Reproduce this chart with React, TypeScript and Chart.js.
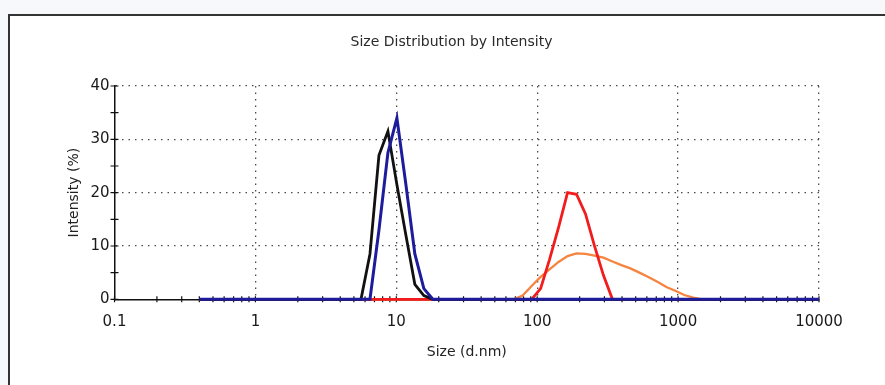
import React, { useEffect, useRef } from "react";
import { Chart, registerables } from "chart.js";

Chart.register(...registerables);

// Size bins (d.nm)
const SIZES = [
  0.4, 0.4632, 0.5364, 0.6212, 0.7194, 0.8331, 0.9647, 1.117, 1.294, 1.499,
  1.736, 2.01, 2.328, 2.696, 3.122, 3.615, 4.187, 4.849, 5.615, 6.503,
  7.531, 8.721, 10.1, 11.7, 13.54, 15.69, 18.17, 21.04, 24.36, 28.21,
  32.67, 37.84, 43.82, 50.75, 58.77, 68.06, 78.82, 91.28, 105.7, 122.4,
  141.8, 164.2, 190.1, 220.2, 255.0, 295.3, 342.0, 396.1, 458.7, 531.2,
  615.1, 712.4, 825.0, 955.4, 1106, 1281, 1484, 1718, 1990, 2305,
  2669, 3091, 3580, 4145, 4801, 5560, 6439, 7456, 8635, 10000,
];

const BLUE = [
  0, 0, 0, 0, 0, 0, 0, 0, 0, 0,
  0, 0, 0, 0, 0, 0, 0, 0, 0, 0,
  13, 27.5, 34, 21.5, 8.5, 2, 0, 0, 0, 0,
  0, 0, 0, 0, 0, 0, 0, 0, 0, 0,
  0, 0, 0, 0, 0, 0, 0, 0, 0, 0,
  0, 0, 0, 0, 0, 0, 0, 0, 0, 0,
  0, 0, 0, 0, 0, 0, 0, 0, 0, 0,
];

const BLACK = [
  0, 0, 0, 0, 0, 0, 0, 0, 0, 0,
  0, 0, 0, 0, 0, 0, 0, 0, 0, 8.5,
  27, 31.5, 21.5, 12, 2.8, 0.7, 0, 0, 0, 0,
  0, 0, 0, 0, 0, 0, 0, 0, 0, 0,
  0, 0, 0, 0, 0, 0, 0, 0, 0, 0,
  0, 0, 0, 0, 0, 0, 0, 0, 0, 0,
  0, 0, 0, 0, 0, 0, 0, 0, 0, 0,
];

const RED = [
  0, 0, 0, 0, 0, 0, 0, 0, 0, 0,
  0, 0, 0, 0, 0, 0, 0, 0, 0, 0,
  0, 0, 0, 0, 0, 0, 0, 0, 0, 0,
  0, 0, 0, 0, 0, 0, 0, 0, 2, 7.5,
  13.5, 20, 19.7, 16, 10, 4.5, 0, 0, 0, 0,
  0, 0, 0, 0, 0, 0, 0, 0, 0, 0,
  0, 0, 0, 0, 0, 0, 0, 0, 0, 0,
];

const ORANGE = [
  0, 0, 0, 0, 0, 0, 0, 0, 0, 0,
  0, 0, 0, 0, 0, 0, 0, 0, 0, 0,
  0, 0, 0, 0, 0, 0, 0, 0, 0, 0,
  0, 0, 0, 0, 0, 0, 0.7, 2.5, 4.2, 5.6,
  7.0, 8.1, 8.6, 8.5, 8.2, 7.8, 7.1, 6.4, 5.8, 5.0,
  4.2, 3.3, 2.3, 1.6, 0.8, 0.3, 0, 0, 0, 0,
  0, 0, 0, 0, 0, 0, 0, 0, 0, 0,
];

const X_MAJOR = [0.1, 1, 10, 100, 1000, 10000];
const X_LABELS = ["0.1", "1", "10", "100", "1000", "10000"];
const X_MINOR_STEPS = [1, 2, 3, 4, 5, 6, 7, 8, 9];
const Y_TICKS = [0, 5, 10, 15, 20, 25, 30, 35, 40];
const Y_LABELS: Record<number, string> = { 0: "0", 10: "10", 20: "20", 30: "30", 40: "40" };

const TITLE = "Size Distribution by Intensity";
const X_TITLE = "Size (d.nm)";
const Y_TITLE = "Intensity (%)";

const FONT = "'DejaVu Sans', Arial, sans-serif";

const majorIndex = (v: number) =>
  X_MAJOR.findIndex((m) => Math.abs(Math.log10(v) - Math.log10(m)) < 1e-6);

const xTickValues: number[] = [];
X_MAJOR.forEach((m, i) => {
  if (i === X_MAJOR.length - 1) {
    xTickValues.push(m);
  } else {
    X_MINOR_STEPS.forEach((s) => xTickValues.push(+(m * s).toPrecision(6)));
  }
});

const tickMarks = {
  id: "tickMarks",
  beforeDatasetsDraw(chart: any) {
    const { ctx, chartArea } = chart;
    const x = chart.scales.x;
    const y = chart.scales.y;
    ctx.save();
    ctx.strokeStyle = "#111";
    ctx.lineWidth = 1.2;
    ctx.beginPath();
    x.ticks.forEach((t: any) => {
      const px = x.getPixelForValue(t.value);
      ctx.moveTo(px, chartArea.bottom - 3);
      ctx.lineTo(px, chartArea.bottom + 3);
    });
    y.ticks.forEach((t: any) => {
      const py = y.getPixelForValue(t.value);
      ctx.moveTo(chartArea.left - 4, py);
      ctx.lineTo(chartArea.left + 4, py);
    });
    ctx.stroke();
    ctx.restore();
  },
};

const pts = (vals: number[]) => SIZES.map((s, i) => ({ x: s, y: vals[i] }));

export default function App() {
  const ref = useRef<HTMLCanvasElement | null>(null);

  useEffect(() => {
    if (!ref.current) return;
    const chart = new Chart(ref.current, {
      type: "line",
      data: {
        datasets: [
          { label: "blue", data: pts(BLUE), borderColor: "#1c1c9c", borderWidth: 3 },
          { label: "black", data: pts(BLACK), borderColor: "#111111", borderWidth: 2.8 },
          { label: "red", data: pts(RED), borderColor: "#f21c1c", borderWidth: 2.8 },
          { label: "orange", data: pts(ORANGE), borderColor: "#f5843f", borderWidth: 2.3 },
        ].map((d) => ({ ...d, pointRadius: 0, tension: 0, fill: false, clip: false as any })),
      },
      options: {
        responsive: false,
        animation: false,
        devicePixelRatio: 1,
        layout: { padding: 0 },
        plugins: {
          legend: { display: false },
          tooltip: { enabled: false },
          title: {
            display: true,
            text: TITLE,
            color: "#2a2a2a",
            font: { family: FONT, size: 14, weight: "normal" },
            padding: { top: 33.5, bottom: 35.7 },
          },
        },
        scales: {
          x: {
            type: "logarithmic",
            min: 0.1,
            max: 10000,
            afterBuildTicks: (scale: any) => {
              scale.ticks = xTickValues.map((v) => ({ value: v, major: majorIndex(v) >= 0 }));
            },
            afterFit: (scale: any) => {
              scale.height = 85.7;
            },
            ticks: {
              autoSkip: false,
              maxRotation: 0,
              padding: 14.2,
              color: "#1a1a1a",
              font: { family: FONT, size: 15 },
              callback: (value: any) => {
                const i = majorIndex(Number(value));
                return i >= 0 ? X_LABELS[i] : "";
              },
            },
            grid: {
              drawTicks: false,
              lineWidth: 1.3,
              color: (ctx: any) => {
                const v = ctx.tick ? ctx.tick.value : null;
                if (v == null) return "transparent";
                const i = majorIndex(v);
                return i > 0 ? "#4a4a4a" : "transparent";
              },
            },
            border: { display: true, color: "#111", width: 1.5, dash: [1.5, 5] },
            title: {
              display: true,
              text: X_TITLE,
              color: "#222",
              font: { family: FONT, size: 14 },
              padding: { top: 0, bottom: 24.6 },
            },
          },
          y: {
            type: "linear",
            position: "left",
            min: 0,
            max: 40,
            afterBuildTicks: (scale: any) => {
              scale.ticks = Y_TICKS.map((v) => ({ value: v }));
            },
            afterFit: (scale: any) => {
              scale.width = 114.5;
            },
            ticks: {
              padding: 5,
              color: "#1a1a1a",
              font: { family: FONT, size: 15 },
              callback: (value: any) => Y_LABELS[Number(value)] ?? "",
            },
            grid: {
              drawTicks: false,
              lineWidth: 1.3,
              color: (ctx: any) => {
                const v = ctx.tick ? ctx.tick.value : null;
                if (v == null || v === 0) return "transparent";
                return Y_LABELS[v] !== undefined ? "#4a4a4a" : "transparent";
              },
            },
            border: { display: true, color: "#111", width: 1.5, dash: [1.5, 5] },
            title: {
              display: true,
              text: Y_TITLE,
              color: "#222",
              font: { family: FONT, size: 14 },
              padding: { top: 65.6, bottom: 0 },
            },
          },
          yRightSpace: {
            type: "linear",
            position: "right",
            min: 0,
            max: 40,
            afterFit: (scale: any) => {
              scale.width = 84;
            },
            ticks: { display: false },
            grid: { display: false, drawOnChartArea: false, drawTicks: false },
            border: { display: false },
            title: { display: false },
          },
        },
      },
      plugins: [tickMarks],
    } as any);
    return () => chart.destroy();
  }, []);

  return (
    <div
      style={{
        position: "fixed",
        left: 0,
        top: 0,
        width: 885,
        height: 385,
        overflow: "hidden",
        background: "#f6f8fb",
      }}
    >
      <div
        style={{
          position: "absolute",
          left: 8,
          top: 14,
          width: 2000,
          height: 2000,
          background: "#ffffff",
          borderLeft: "2px solid #333",
          borderTop: "2px solid #333",
        }}
      />
      <canvas
        ref={ref}
        width={903}
        height={385}
        style={{ position: "absolute", left: 0, top: 0, width: 903, height: 385 }}
      />
    </div>
  );
}
